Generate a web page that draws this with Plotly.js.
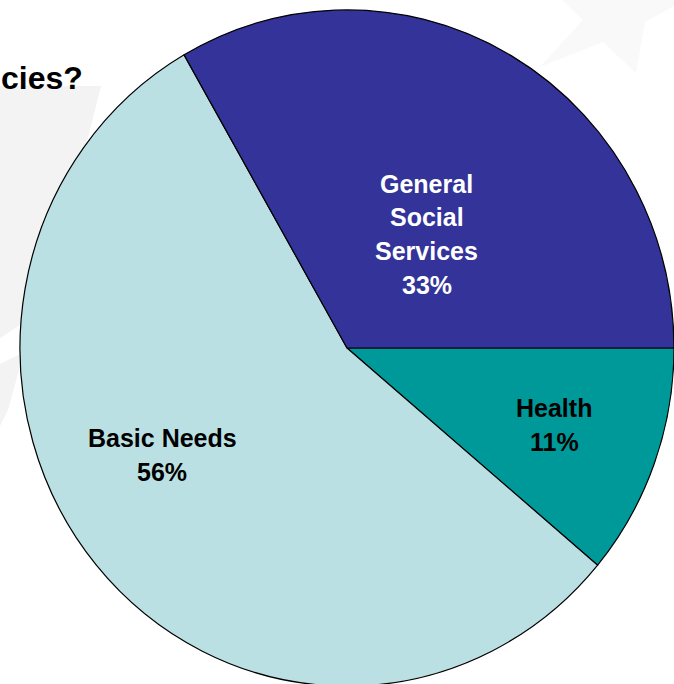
<!DOCTYPE html>
<html>
<head>
<meta charset="utf-8">
<script src="https://cdn.plot.ly/plotly-3.0.1.min.js"></script>
<style>html,body{margin:0;padding:0;background:#fff;overflow:hidden}#chart{width:674px;height:684px}</style>
</head>
<body>
<div id="chart"></div>
<script>
// ---- data ----
var categories = ["Health", "Basic Needs", "General Social Services"];
var values = [11.1, 55.6, 33.3];
var labelLines = [["Health"], ["Basic Needs"], ["General", "Social", "Services"]];
var colors = ["#009999", "#BBE0E3", "#333399"];
var textColors = ["#000000", "#000000", "#ffffff"];
var titleFragment = "cies?";

// ---- layout helpers ----
var W = 674, H = 684;
function px(x) { return x / W; }
function py(y) { return 1 - y / H; }
function pathFrom(pts) {
  return pts.map(function (p, i) { return (i ? "L" : "M") + px(p[0]).toFixed(4) + "," + py(p[1]).toFixed(4); }).join(" ") + " Z";
}

// label block centres (pixels) and spacing
var labelPos = [[554, 408], [162, 438], [427, 184]];
var lineGap = 33.5;
var total = values.reduce(function (a, b) { return a + b; }, 0);

var annotations = [];
categories.forEach(function (c, i) {
  var lines = labelLines[i].concat([Math.round(values[i] / total * 100) + "%"]);
  lines.forEach(function (t, k) {
    annotations.push({
      xref: "paper", yref: "paper",
      x: px(labelPos[i][0]), y: py(labelPos[i][1] + k * lineGap),
      xanchor: "center", yanchor: "middle",
      text: "<b>" + t + "</b>", showarrow: false,
      font: { family: "Liberation Sans, Arial, sans-serif", size: 25, color: textColors[i] }
    });
  });
});
annotations.push({
  xref: "paper", yref: "paper", x: px(85), y: py(78),
  xanchor: "right", yanchor: "middle", showarrow: false,
  text: "<b>" + titleFragment + "</b>",
  font: { family: "Liberation Sans, Arial, sans-serif", size: 32, color: "#000000" }
});

var shapes = [
  { type: "path", xref: "paper", yref: "paper", layer: "below", line: { width: 0 }, fillcolor: "#f3f3f3",
    path: pathFrom([[0, 86], [101, 86], [60, 250], [28, 320], [0, 338]]) },
  { type: "path", xref: "paper", yref: "paper", layer: "below", line: { width: 0 }, fillcolor: "#f3f3f3",
    path: pathFrom([[0, 364], [24, 352], [8, 410], [0, 426]]) },
  { type: "path", xref: "paper", yref: "paper", layer: "below", line: { width: 0 }, fillcolor: "#f9f9f9",
    path: pathFrom([[562, 0], [583, 20], [540, 67], [603, 42], [636, 73], [645, 22], [674, 6], [674, 0]]) }
];

var trace = {
  type: "pie",
  labels: categories,
  values: values,
  sort: false,
  direction: "clockwise",
  rotation: 90,
  textinfo: "none",
  hoverinfo: "skip",
  marker: { colors: colors, line: { color: "#000000", width: 1.2 } },
  domain: { x: [px(20), 1], y: [1 - 675 / H, 1 - 21 / H] },
  showlegend: false
};

var layout = {
  width: W, height: H,
  margin: { l: 0, r: 0, t: 0, b: 0 },
  paper_bgcolor: "#ffffff",
  showlegend: false,
  annotations: annotations,
  shapes: shapes
};

Plotly.newPlot("chart", [trace], layout, { displayModeBar: false, staticPlot: true }).then(function () {
  var pl = document.querySelector(".pielayer");
  if (pl) {
    var cy = 348, s = 1.034;
    pl.setAttribute("transform", "translate(0," + cy + ") scale(1," + s + ") translate(0," + (-cy) + ")");
  }
});
</script>
</body>
</html>
